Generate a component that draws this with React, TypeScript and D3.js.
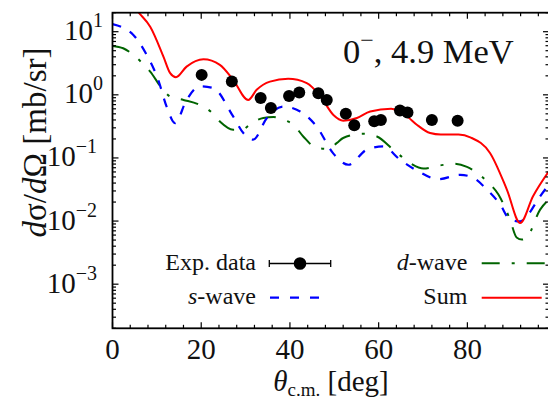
import React from 'react';
import * as d3 from 'd3';

// Experimental data
const expAngle = [20.1, 26.9, 33.4, 35.7, 39.8, 42.1, 46.4, 48.3, 52.6, 54.5, 59.0, 60.5, 64.8, 66.5, 72.0, 77.8];
const expXs = [2.07, 1.62, 0.89, 0.62, 0.96, 1.09, 1.06, 0.83, 0.50, 0.33, 0.38, 0.40, 0.565, 0.525, 0.40, 0.39];

// Sum
const sumAngle = [0, 3, 6, 8.5, 11.5, 13, 14.3, 16.7, 20.5, 24.2, 27.2, 30.6, 32.5, 35.5, 39.6, 43.8, 46.9, 49.8, 52, 55.1, 58.1, 62.8, 66.5, 68.6, 71.6, 74, 78, 80.8, 85.1, 88.9, 91.9, 94.8, 98.4];
const sumXs = [55, 34, 19.7, 12, 4.0, 2.2, 1.9, 2.8, 3.66, 2.98, 1.73, 0.83, 1.2, 1.62, 1.79, 1.53, 0.94, 0.48, 0.39, 0.43, 0.545, 0.6, 0.45, 0.336, 0.248, 0.235, 0.235, 0.21, 0.12, 0.0316, 0.0093, 0.0247, 0.062];

// s-wave
const sAngle = [0, 4.7, 7.7, 10.3, 12.2, 14.1, 16.7, 19.7, 22.7, 27.2, 29.5, 31.7, 34.8, 38.5, 42.3, 46.0, 49.8, 53.2, 57.3, 61, 64.8, 69, 73.4, 78.4, 81.4, 84.4, 87.4, 89.6, 91.9, 93.4, 96.4, 98.4];
const sXs = [13.2, 8.9, 4.3, 1.73, 0.65, 0.357, 0.83, 1.36, 1.28, 0.454, 0.248, 0.195, 0.43, 0.65, 0.545, 0.316, 0.117, 0.078, 0.135, 0.152, 0.094, 0.061, 0.046, 0.054, 0.048, 0.0316, 0.0183, 0.0106, 0.0099, 0.012, 0.0247, 0.038];

// d-wave
const dAngle = [0, 2.4, 4.7, 6.6, 8.5, 11.1, 13.0, 16.0, 19.7, 22.4, 24.2, 27.2, 29.1, 31.4, 34, 36.3, 38.5, 40.8, 43, 46, 48.7, 50.6, 52, 56.5, 59.6, 63.3, 67.1, 70.1, 73.8, 76.8, 79.9, 82.1, 84.4, 87, 89.6, 91.1, 92.3, 93.4, 96.4, 98.4];
const dXs = [5.95, 5.47, 4.29, 3.24, 2.33, 1.28, 0.94, 0.83, 0.69, 0.525, 0.378, 0.28, 0.28, 0.357, 0.43, 0.445, 0.403, 0.336, 0.219, 0.144, 0.139, 0.173, 0.207, 0.242, 0.219, 0.135, 0.083, 0.068, 0.076, 0.081, 0.072, 0.059, 0.0427, 0.0263, 0.0106, 0.0055, 0.0051, 0.0055, 0.0152, 0.022];

const xTickValues = [0, 20, 40, 60, 80];
const yTickExponents = [1, 0, -1, -2, -3];

const W = 548, H = 400;
const L = 112.5, R = 549, T = 12.7, B = 328.3;
const FONT = "'Liberation Serif', 'DejaVu Serif', serif";

export default function App() {
  const x = d3.scaleLinear().domain([0, 98.4]).range([L, R]);
  const y = d3.scaleLog().domain([2e-4, 20]).range([B, T]);

  const mk = (ax: number[], vs: number[]) =>
    d3.line<number>().x((_, i) => x(ax[i])).y((v) => y(v)).curve(d3.curveMonotoneX)(vs) || '';

  const sumPath = mk(sumAngle, sumXs);
  const sPath = mk(sAngle, sXs);
  const dPath = mk(dAngle, dXs);

  // ticks
  const xMinor: number[] = d3.range(0, 99, 4);
  const yMinor: number[] = [];
  for (let e = -4; e <= 1; e++) {
    for (let m = 2; m <= 9; m++) {
      const v = m * Math.pow(10, e);
      if (v >= 2e-4 && v <= 20) yMinor.push(v);
    }
  }

  const major = 6, minor = 3.5;
  return (
    <svg width={W} height={H} style={{ position: 'absolute', left: 0, top: 0, background: '#fff' }} fontFamily={FONT}>
      <defs>
        <clipPath id="plotclip">
          <rect x={L} y={T} width={R - L} height={B - T} />
        </clipPath>
      </defs>
      <rect x={0} y={0} width={W} height={H} fill="#fff" />

      {/* curves */}
      <g clipPath="url(#plotclip)" fill="none">
        <path d={dPath} stroke="#006400" strokeWidth={2} strokeDasharray="18,12,3,12" />
        <path d={sPath} stroke="#0000ff" strokeWidth={2.2} strokeDasharray="9,10" />
        <path d={sumPath} stroke="#ff0000" strokeWidth={2} />
        {expAngle.map((a, i) => (
          <circle key={i} cx={x(a)} cy={y(expXs[i])} r={6} fill="#000" />
        ))}
      </g>

      {/* frame */}
      <rect x={L} y={T} width={R - L} height={B - T} fill="none" stroke="#000" strokeWidth={1.8} />

      {/* x ticks */}
      {xMinor.map((v) => {
        const isMajor = v % 20 === 0;
        const len = isMajor ? major : minor;
        const px = x(v);
        return (
          <g key={'xt' + v} stroke="#000" strokeWidth={1.2}>
            <line x1={px} x2={px} y1={B} y2={B - len} />
            <line x1={px} x2={px} y1={T} y2={T + len} />
          </g>
        );
      })}
      {xTickValues.map((v) => (
        <text key={'xl' + v} x={x(v)} y={358.5} fontSize={29} textAnchor="middle" fill="#111">
          {v}
        </text>
      ))}

      {/* y ticks */}
      {yMinor.map((v, i) => (
        <g key={'ym' + i} stroke="#000" strokeWidth={1.2}>
          <line x1={L} x2={L + minor} y1={y(v)} y2={y(v)} />
          <line x1={R} x2={R - minor} y1={y(v)} y2={y(v)} />
        </g>
      ))}
      {yTickExponents.map((e) => {
        const py = y(Math.pow(10, e));
        const endX = e >= 0 ? 103 : 97;
        return (
          <g key={'yl' + e}>
            <line x1={L} x2={L + major} y1={py} y2={py} stroke="#000" strokeWidth={1.2} />
            <line x1={R} x2={R - major} y1={py} y2={py} stroke="#000" strokeWidth={1.2} />
            <text x={endX} y={py + 8.5} fontSize={29} textAnchor="end" fill="#111">
              10
              <tspan fontSize={20} dy={-13}>{e < 0 ? '\u2212' + Math.abs(e) : String(e)}</tspan>
            </text>
          </g>
        );
      })}

      {/* axis labels */}
      <text x={331} y={391} fontSize={29} textAnchor="middle" fill="#111">
        <tspan fontStyle="italic">θ</tspan>
        <tspan fontSize={19} dy={5}>c.m.</tspan>
        <tspan dy={-5}> [deg]</tspan>
      </text>
      <text transform="translate(46,142.5) rotate(-90)" fontSize={33} textAnchor="middle" fill="#111">
        <tspan fontStyle="italic">d</tspan>σ/<tspan fontStyle="italic">d</tspan>Ω [mb/sr]
      </text>

      {/* title */}
      <text x={343} y={63.3} fontSize={34.5} fill="#111">
        0<tspan fontSize={24} dy={-15}>{'\u2212'}</tspan>
        <tspan dy={15}>, 4.9 MeV</tspan>
      </text>

      {/* legend */}
      <g fontSize={24} fill="#111" textAnchor="end">
        <text x={256} y={270}>Exp. data</text>
        <text x={256} y={304}><tspan fontStyle="italic">s</tspan>-wave</text>
        <text x={467.3} y={270}><tspan fontStyle="italic">d</tspan>-wave</text>
        <text x={467.3} y={304}>Sum</text>
      </g>
      <g stroke="#000" strokeWidth={1.3}>
        <line x1={269.3} x2={330.7} y1={263.5} y2={263.5} />
        <line x1={269.3} x2={269.3} y1={260} y2={267} />
        <line x1={330.7} x2={330.7} y1={260} y2={267} />
      </g>
      <circle cx={300} cy={263.5} r={6.3} fill="#000" />
      <line x1={270} x2={322} y1={297.7} y2={297.7} stroke="#0000ff" strokeWidth={2.2} strokeDasharray="9,11" />
      <line x1={481.7} x2={548} y1={263.3} y2={263.3} stroke="#006400" strokeWidth={2} strokeDasharray="18,12,3,12" />
      <line x1={481.7} x2={541.7} y1={297.7} y2={297.7} stroke="#ff0000" strokeWidth={2} />
    </svg>
  );
}
